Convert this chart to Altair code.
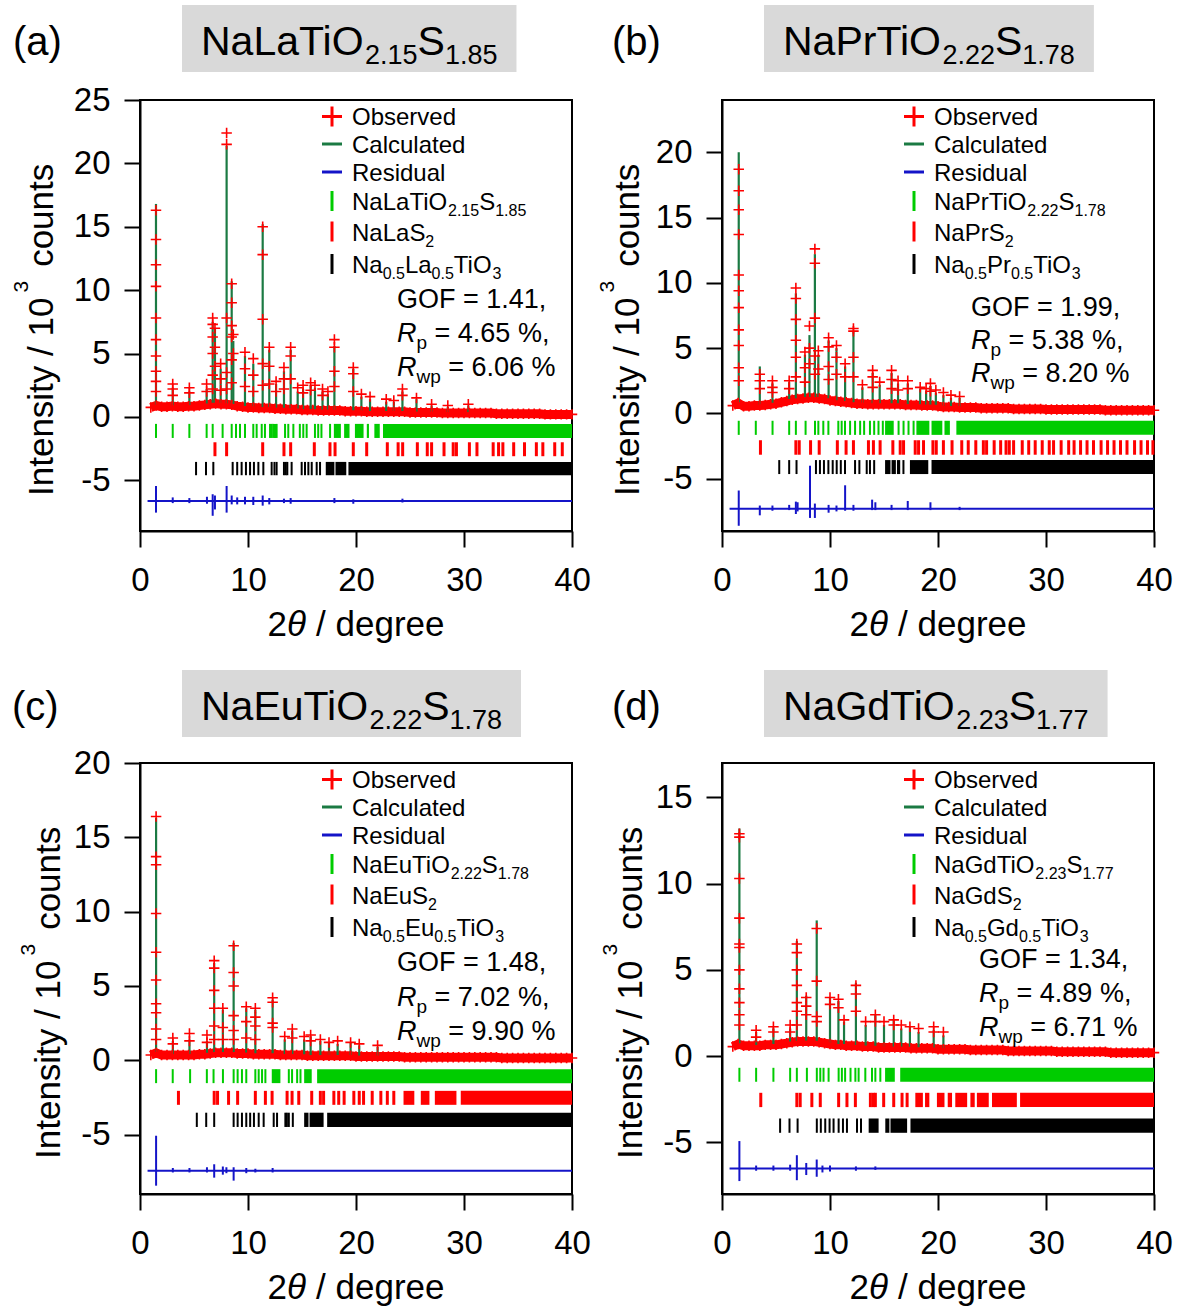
import altair as alt
import numpy as np
import pandas as pd

FONT = "Liberation Sans"
PW, PH = 432, 431
OBS_RED = "#ff0000"
CALC_GREEN = "#1b7a43"
TICK_GREEN = "#00cc00"
TICK_RED = "#ff0000"
TICK_BLACK = "#000000"
RES_BLUE = "#1414c8"
BOX_GREY = "#d9d9d9"
CROSS = "M-1,0L1,0M0,-1L0,1"

# 2theta positions where the background level of each pattern was read (0.5 deg steps)
BG_X = [round(1.0 + 0.5 * i, 1) for i in range(79)]

# ---------------- (a) NaLaTiO2.15S1.85 ----------------
A_TITLE = ["NaLaTiO", "_2.15", "S", "_1.85"]
A_PHASES = [["NaLaTiO", "_2.15", "S", "_1.85"], ["NaLaS", "_2"], ["Na", "_0.5", "La", "_0.5", "TiO", "_3"]]
A_FIT = ["1.41", "4.65", "6.06"]
A_YDOM = [-9, 25]
A_YTICKS = [-5, 0, 5, 10, 15, 20, 25]
A_BG = [0.75, 0.9, 0.8, 0.8, 0.85, 0.8, 0.8, 0.85, 0.85, 0.9,
        0.95, 1.0, 1.05, 1.0, 1.0, 0.95, 0.85, 0.8, 0.75, 0.75,
        0.7, 0.7, 0.7, 0.65, 0.65, 0.6, 0.6, 0.6, 0.55, 0.55,
        0.55, 0.5, 0.5, 0.5, 0.5, 0.5, 0.45, 0.45, 0.45, 0.45,
        0.4, 0.4, 0.4, 0.4, 0.4, 0.4, 0.4, 0.4, 0.35, 0.35,
        0.35, 0.35, 0.35, 0.35, 0.3, 0.3, 0.3, 0.3, 0.3, 0.3,
        0.3, 0.3, 0.3, 0.3, 0.25, 0.25, 0.25, 0.25, 0.25, 0.25,
        0.25, 0.25, 0.25, 0.2, 0.2, 0.2, 0.2, 0.2,
        0.2]
A_PK_POS = [1.48, 3.03, 4.57, 6.17, 6.73, 6.94, 7.47, 8.02, 8.49, 8.64, 9.72, 10.49, 11.36,
            11.97, 13.33, 13.95, 15.1, 15.8, 16.2, 18.0, 19.75, 22.8, 24.3, 25.6, 27.0, 30.4,
            12.6, 14.6, 16.9, 17.4, 20.5, 21.3, 23.5, 28.5]
A_PK_CALC = [16.8, 2.3, 2.0, 2.2, 7.5, 7.0, 3.8, 21.4, 10.7, 6.0, 4.8, 4.2, 15.2,
             5.3, 3.6, 5.3, 2.2, 2.5, 2.3, 5.6, 3.8, 1.2, 2.0, 1.4, 0.9, 0.9,
             2.6, 2.0, 2.0, 1.8, 1.6, 1.4, 1.2, 0.8]
A_PK_OBS = [[16.3, 14.0, 12.0, 10.3, 7.8, 6.1, 4.8, 3.6, 2.8, 2.0], [2.6, 2.2, 1.7], [2.3, 1.9], [2.6, 2.0],
            [7.8, 7.3, 6.3, 5.0, 3.3, 2.2], [7.0, 5.5, 4.0], [4.2, 3.0, 2.1], [22.4, 21.5, 7.8, 3.5, 2.2],
            [10.5, 9.0, 7.2, 6.3, 4.5, 2.7], [6.5, 5.0], [5.1, 3.8, 2.4], [4.6, 3.3, 2.0],
            [15.0, 12.8, 7.7, 4.2, 2.5], [5.5, 4.0, 2.6], [3.9, 3.0, 2.2], [5.5, 4.8, 3.0], [2.5, 1.9],
            [2.7, 2.1], [2.5], [6.1, 5.5, 3.6, 2.4], [3.9, 3.4, 2.0], [1.4], [2.2, 1.7], [1.5], [1.0], [1.0],
            [2.8, 2.0], [2.3], [2.2, 1.7], [2.0], [1.8], [1.6], [1.3], [0.9]]
A_RES_BASE = -6.63
A_RES_POS = [1.48, 3.03, 4.57, 6.2, 6.73, 6.94, 8.02, 8.49, 9.0, 9.72, 10.49, 11.36, 11.97, 13.33, 13.95, 18.0, 19.75, 24.3]
A_RES_HI = [-5.45, -6.35, -6.4, -6.3, -6.1, -6.2, -5.45, -6.2, -6.35, -6.3, -6.3, -6.2, -6.4, -6.45, -6.4, -6.4, -6.5, -6.45]
A_RES_LO = [-7.55, -6.8, -6.8, -6.85, -7.8, -7.3, -7.55, -6.9, -6.9, -6.9, -6.95, -7.0, -6.9, -6.8, -6.85, -6.8, -6.85, -6.75]
A_ROWS = [(-0.55, -1.66), (-2.0, -3.1), (-3.55, -4.6)]
A_TK1 = [1.48, 3.03, 4.57, 6.17, 6.73, 7.65, 8.49, 8.89, 9.26, 9.72, 10.49, 10.8, 11.27, 11.57, 12.04, 12.2,
         12.35, 12.5, 12.65, 13.43, 13.73, 14.2, 14.8, 15.12, 15.43, 16.2, 16.5, 16.8, 17.6]
A_SP1 = [(17.95, 18.6), (18.9, 19.4), (19.9, 20.7), (21.0, 21.2), (21.7, 22.2), (22.5, 40.0)]
A_TK2 = [6.94, 8.02, 11.36, 13.33, 13.95, 16.14, 17.59, 18.06, 19.75, 20.99, 22.9, 23.9, 24.32, 25.68, 26.6,
         27.0, 28.15, 29.0, 29.3, 30.5, 31.2, 32.7, 33.2, 33.6, 34.6, 35.6, 36.7, 37.3, 38.4, 39.1]
A_SP2 = []
A_TK3 = [5.19, 6.11, 6.79, 8.58, 9.0, 9.41, 9.81, 10.19, 10.55, 10.96, 11.42, 12.19, 12.45, 12.65, 13.33, 13.5,
         13.64, 14.04, 14.97, 15.28, 15.59, 15.9, 16.36, 16.67]
A_SP3 = [(17.2, 18.0), (18.1, 19.1), (19.3, 40.0)]

# ---------------- (b) NaPrTiO2.22S1.78 ----------------
B_TITLE = ["NaPrTiO", "_2.22", "S", "_1.78"]
B_PHASES = [["NaPrTiO", "_2.22", "S", "_1.78"], ["NaPrS", "_2"], ["Na", "_0.5", "Pr", "_0.5", "TiO", "_3"]]
B_FIT = ["1.99", "5.38", "8.20"]
B_YDOM = [-9, 24]
B_YTICKS = [-5, 0, 5, 10, 15, 20]
B_BG = [0.6, 0.8, 0.55, 0.55, 0.6, 0.6, 0.65, 0.7, 0.75, 0.85,
        0.95, 1.05, 1.1, 1.15, 1.2, 1.2, 1.15, 1.1, 1.0, 0.95,
        0.9, 0.85, 0.8, 0.75, 0.75, 0.7, 0.7, 0.7, 0.7, 0.7,
        0.7, 0.7, 0.65, 0.65, 0.65, 0.6, 0.6, 0.6, 0.55, 0.5,
        0.5, 0.5, 0.45, 0.45, 0.45, 0.45, 0.4, 0.4, 0.4, 0.4,
        0.4, 0.4, 0.35, 0.35, 0.35, 0.35, 0.35, 0.35, 0.3, 0.3,
        0.3, 0.3, 0.3, 0.3, 0.3, 0.3, 0.3, 0.3, 0.3, 0.25,
        0.25, 0.25, 0.25, 0.25, 0.25, 0.25, 0.25, 0.25,
        0.25]
B_PK_POS = [1.55, 3.5, 4.67, 6.22, 6.84, 7.68, 8.1, 8.6, 8.92, 9.87, 10.6, 11.4, 12.17, 13.95, 15.7, 17.2, 18.35,
            19.3, 20.5, 13.0, 14.6, 16.3, 18.9, 19.8, 21.2, 22.0]
B_PK_CALC = [20.0, 3.6, 2.3, 2.4, 9.2, 4.5, 6.0, 12.2, 4.5, 5.6, 5.0, 3.6, 6.3, 3.1, 3.1, 2.3, 1.9,
             2.1, 1.4, 2.0, 2.2, 2.3, 1.7, 1.6, 1.2, 1.2]
B_PK_OBS = [[18.7, 17.05, 15.6, 13.7, 10.6, 9.4, 8.1, 6.4, 5.2, 3.5, 2.5], [3.0, 2.5, 1.9], [2.5, 2.0, 1.6],
            [2.5, 1.9], [9.6, 8.8, 7.2, 5.6, 4.3, 2.8], [4.7, 3.5, 2.4], [6.7, 5.0, 3.8], [12.6, 11.5, 7.3, 4.4, 3.0],
            [4.8, 3.4], [5.8, 5.1, 3.6, 2.6], [5.2, 4.3, 3.0], [3.8, 2.8], [6.5, 6.3, 4.3, 2.8], [3.3, 2.8, 2.0],
            [3.3, 2.6, 1.9], [2.5, 1.9], [2.0], [2.3, 1.7], [1.6],
            [2.2], [2.4], [2.5, 1.8], [1.9], [1.8], [1.4], [1.3]]
B_RES_BASE = -7.3
B_RES_POS = [1.55, 3.5, 4.67, 6.22, 6.84, 7.0, 8.15, 8.6, 9.87, 10.6, 11.4, 12.17, 13.9, 14.2, 15.7, 17.2, 19.3, 22.0]
B_RES_HI = [-5.9, -7.05, -7.05, -7.0, -6.75, -6.8, -4.0, -6.9, -7.0, -7.05, -5.5, -7.0, -6.6, -6.8, -7.0, -6.7, -6.8, -7.15]
B_RES_LO = [-8.6, -7.8, -7.45, -7.4, -7.7, -7.5, -8.0, -8.0, -7.6, -7.5, -7.45, -7.45, -7.4, -7.4, -7.4, -7.4, -7.4, -7.4]
B_ROWS = [(-0.56, -1.64), (-2.05, -3.16), (-3.57, -4.64)]
B_TK1 = [1.55, 3.13, 4.68, 6.22, 6.84, 7.74, 8.61, 8.92, 9.38, 9.85, 10.77, 11.08, 11.39, 11.86, 12.32, 12.79,
         13.16, 13.7, 14.09, 14.49, 14.89, 16.35, 16.81, 17.27, 17.74]
B_SP1 = [(15.1, 15.9), (18.0, 19.2), (19.4, 20.4), (20.6, 21.1), (21.7, 40.0)]
B_TK2 = [3.56, 6.84, 7.15, 8.2, 9.0, 10.68, 11.49, 12.17, 13.56, 14.02, 14.64, 15.82, 16.5, 16.81, 17.89, 18.2,
         18.66, 19.53, 19.84, 20.5, 21.3, 22.2, 22.8, 23.5, 24.2, 24.5, 25.2, 25.8, 26.3, 26.6, 27.0, 27.8, 28.4,
         29.0, 29.65, 30.3, 30.7, 31.4, 32.1, 32.6, 33.2, 33.8, 34.4, 35.1, 35.7, 36.3, 36.9, 37.5, 38.2, 38.8,
         39.4, 39.9]
B_SP2 = []
B_TK3 = [5.3, 6.22, 6.9, 8.7, 9.07, 9.44, 9.85, 10.25, 10.62, 11.0, 11.39, 12.32, 12.72, 13.4, 13.7, 14.09, 16.8]
B_SP3 = [(15.1, 15.6), (15.7, 16.1), (16.2, 16.5), (17.4, 19.1), (19.4, 40.0)]

# ---------------- (c) NaEuTiO2.22S1.78 ----------------
C_TITLE = ["NaEuTiO", "_2.22", "S", "_1.78"]
C_PHASES = [["NaEuTiO", "_2.22", "S", "_1.78"], ["NaEuS", "_2"], ["Na", "_0.5", "Eu", "_0.5", "TiO", "_3"]]
C_FIT = ["1.48", "7.02", "9.90"]
C_YDOM = [-9, 20]
C_YTICKS = [-5, 0, 5, 10, 15, 20]
C_BG = [0.35, 0.5, 0.35, 0.35, 0.35, 0.35, 0.35, 0.35, 0.35, 0.4,
        0.4, 0.45, 0.5, 0.5, 0.5, 0.5, 0.45, 0.45, 0.45, 0.4,
        0.4, 0.4, 0.4, 0.4, 0.35, 0.35, 0.35, 0.35, 0.35, 0.3,
        0.3, 0.3, 0.3, 0.3, 0.3, 0.3, 0.3, 0.3, 0.25, 0.25,
        0.25, 0.25, 0.25, 0.25, 0.25, 0.25, 0.25, 0.2, 0.2, 0.2,
        0.2, 0.2, 0.2, 0.2, 0.2, 0.2, 0.2, 0.2, 0.2, 0.2,
        0.2, 0.2, 0.2, 0.2, 0.2, 0.15, 0.15, 0.15, 0.15, 0.15,
        0.15, 0.15, 0.15, 0.15, 0.15, 0.15, 0.15, 0.15,
        0.15]
C_PK_POS = [1.49, 3.04, 4.58, 6.2, 6.87, 7.67, 8.67, 9.84, 10.68, 12.28, 14.1, 15.8, 16.7, 17.5, 19.5,
            13.4, 15.2, 18.3, 20.3, 22.0]
C_PK_CALC = [16.3, 1.3, 1.4, 1.3, 6.55, 3.4, 7.9, 3.5, 3.4, 4.05, 2.0, 1.6, 1.3, 1.2, 1.2,
             1.4, 1.4, 1.1, 1.0, 0.9]
C_PK_OBS = [[16.4, 13.7, 13.15, 9.87, 7.27, 5.4, 3.8, 3.2, 2.1, 1.4], [1.5, 1.1], [1.8, 1.3], [1.7, 1.2],
            [6.7, 6.2, 4.7, 3.5, 2.3, 1.4], [3.5, 2.2, 1.4], [7.7, 5.9, 5.0, 3.0, 2.0, 1.4], [3.6, 2.6, 1.5],
            [3.5, 2.9, 2.3, 1.4], [4.2, 3.9, 2.5, 2.2], [2.1, 1.5], [1.7, 1.3], [1.4], [1.2], [1.2],
            [1.6], [1.6], [1.3], [1.1], [1.0]]
C_RES_BASE = -7.43
C_RES_POS = [1.49, 3.04, 4.58, 6.2, 6.87, 7.67, 8.0, 8.67, 9.84, 10.68, 12.28]
C_RES_HI = [-5.08, -7.25, -7.25, -7.2, -7.0, -7.15, -7.2, -7.2, -7.25, -7.3, -7.25]
C_RES_LO = [-8.44, -7.55, -7.55, -7.55, -7.9, -7.7, -7.6, -8.1, -7.6, -7.55, -7.55]
C_ROWS = [(-0.6, -1.54), (-2.06, -3.0), (-3.53, -4.49)]
C_TK1 = [1.49, 3.03, 4.64, 6.19, 6.81, 7.68, 8.67, 9.04, 9.44, 9.84, 10.68, 10.99, 11.3, 11.61, 13.78, 14.08, 14.55, 14.86]
C_SP1 = [(12.2, 13.0), (15.2, 15.9), (16.4, 40.0)]
C_TK2 = [3.56, 6.87, 7.18, 8.2, 9.04, 10.68, 11.61, 12.23, 13.62, 14.08, 14.7, 15.9, 16.7, 17.0, 17.95, 18.4,
         18.9, 19.8, 20.3, 20.7, 21.5, 22.3, 22.9, 23.5]
C_SP2 = [(24.4, 25.4), (26.0, 26.8), (27.3, 29.3), (29.7, 40.0)]
C_TK3 = [5.26, 6.13, 6.87, 8.67, 9.04, 9.44, 9.84, 10.2, 10.55, 10.99, 11.45, 12.38, 12.69, 13.46, 13.6, 13.78, 14.15]
C_SP3 = [(15.2, 15.6), (15.7, 17.0), (17.33, 40.0)]

# ---------------- (d) NaGdTiO2.23S1.77 ----------------
D_TITLE = ["NaGdTiO", "_2.23", "S", "_1.77"]
D_PHASES = [["NaGdTiO", "_2.23", "S", "_1.77"], ["NaGdS", "_2"], ["Na", "_0.5", "Gd", "_0.5", "TiO", "_3"]]
D_FIT = ["1.34", "4.89", "6.71"]
D_YDOM = [-8, 17]
D_YTICKS = [-5, 0, 5, 10, 15]
D_BG = [0.55, 0.7, 0.6, 0.6, 0.6, 0.6, 0.65, 0.65, 0.65, 0.7,
        0.75, 0.8, 0.85, 0.85, 0.85, 0.85, 0.8, 0.75, 0.7, 0.65,
        0.65, 0.6, 0.6, 0.6, 0.55, 0.55, 0.55, 0.5, 0.5, 0.5,
        0.5, 0.5, 0.5, 0.45, 0.45, 0.45, 0.45, 0.45, 0.4, 0.4,
        0.4, 0.4, 0.4, 0.4, 0.35, 0.35, 0.35, 0.35, 0.35, 0.35,
        0.35, 0.3, 0.3, 0.3, 0.3, 0.3, 0.3, 0.3, 0.3, 0.3,
        0.25, 0.25, 0.25, 0.25, 0.25, 0.25, 0.25, 0.25, 0.25, 0.25,
        0.2, 0.2, 0.2, 0.2, 0.2, 0.2, 0.2, 0.2,
        0.2]
D_PK_POS = [1.61, 3.16, 4.76, 6.31, 6.93, 7.8, 8.77, 10.0, 10.78, 11.3, 12.4, 14.2, 15.9, 17.4, 19.6,
            13.3, 15.0, 16.6, 18.2, 20.5]
D_PK_CALC = [13.2, 1.4, 1.6, 1.6, 6.67, 3.5, 7.87, 3.4, 3.2, 2.0, 4.25, 2.4, 2.1, 1.7, 1.5,
             1.8, 1.8, 1.6, 1.4, 1.2]
D_PK_OBS = [[12.9, 12.7, 10.3, 8.0, 6.5, 6.3, 5.0, 3.9, 3.1, 2.4, 1.8], [1.5, 1.1], [1.7, 1.4], [1.8, 1.4],
            [6.5, 6.0, 5.0, 4.1, 3.1, 2.6, 1.8], [3.4, 2.9, 2.4], [7.4, 4.35, 2.3, 2.0], [3.4, 3.0], [3.3, 2.8],
            [2.1], [4.1, 3.6, 2.6], [2.4, 2.0], [2.1, 1.8], [1.7], [1.7, 1.4],
            [2.0], [2.0], [1.8], [1.6], [1.4]]
D_RES_BASE = -6.52
D_RES_POS = [1.61, 3.16, 4.76, 6.31, 6.93, 7.8, 8.77, 9.3, 10.0, 12.4, 14.2]
D_RES_HI = [-4.93, -6.35, -6.35, -6.3, -5.75, -6.2, -6.0, -6.35, -6.35, -6.4, -6.4]
D_RES_LO = [-7.25, -6.65, -6.65, -6.65, -7.2, -6.9, -7.0, -6.75, -6.7, -6.65, -6.6]
D_ROWS = [(-0.68, -1.49), (-2.13, -2.96), (-3.62, -4.45)]
D_TK1 = [1.61, 3.16, 4.76, 6.31, 6.93, 7.86, 8.78, 9.1, 9.4, 9.87, 10.8, 11.1, 11.4, 11.9, 12.35, 12.65, 13.27,
         13.89, 14.2, 14.66]
D_SP1 = [(15.1, 16.0), (16.5, 40.0)]
D_TK2 = [3.59, 6.93, 7.24, 8.32, 9.1, 10.8, 11.57, 12.35, 13.74, 14.0, 14.2, 14.97, 15.9, 16.67, 17.14]
D_SP2 = [(17.9, 18.6), (18.8, 19.2), (19.9, 20.6), (20.9, 21.3), (21.6, 22.7), (23.0, 23.4), (23.6, 24.7),
         (25.0, 27.3), (27.6, 40.0)]
D_TK3 = [5.38, 6.25, 7.0, 8.78, 9.15, 9.56, 9.96, 10.33, 10.8, 11.2, 11.57, 12.5, 12.87]
D_SP3 = [(13.58, 14.5), (15.12, 15.5), (15.6, 17.14), (17.45, 40.0)]

LABELS = ["(a)", "(b)", "(c)", "(d)"]

# ---------------- text helpers (Arial / Liberation Sans advance widths) ----------------
CW = {' ': 278, '(': 333, ')': 333, ',': 278, '.': 278, '/': 278, '=': 584, '%': 889,
      'a': 556, 'b': 556, 'c': 500, 'd': 556, 'e': 556, 'g': 556, 'i': 222, 'l': 222, 'n': 556,
      'o': 556, 'p': 556, 'r': 333, 's': 500, 't': 278, 'u': 556, 'v': 500, 'w': 722, 'y': 500,
      'C': 722, 'E': 667, 'F': 611, 'G': 778, 'I': 278, 'L': 556, 'N': 722, 'O': 778, 'P': 667,
      'R': 722, 'S': 667, 'T': 611, '\u03b8': 556}


def tw(s, size):
    return sum(CW.get(c, 556) for c in s) * size / 1000.0


def seg_row(parts, x0, base):
    out = []
    x = x0
    for text, size, dy, style in parts:
        stripped = text.lstrip(' ')
        x += tw(text[:len(text) - len(stripped)], size)
        out.append({'px': x, 'py': base + dy, 'text': stripped, 'size': size, 'style': style})
        x += tw(stripped, size)
    return out


def chem(tokens, big, small, drop):
    return [(t[1:], small, drop, 'n') if t.startswith('_') else (t, big, 0, 'n') for t in tokens]


def width_of(parts):
    return sum(tw(t, s) for t, s, _, _ in parts)


PANELS = [
    dict(title=A_TITLE, phases=A_PHASES, fit=A_FIT, ydom=A_YDOM, yticks=A_YTICKS, bg=A_BG,
         pk_pos=A_PK_POS, pk_calc=A_PK_CALC, pk_obs=A_PK_OBS, res_base=A_RES_BASE, res_pos=A_RES_POS,
         res_hi=A_RES_HI, res_lo=A_RES_LO, rows=A_ROWS, tk=[A_TK1, A_TK2, A_TK3], sp=[A_SP1, A_SP2, A_SP3],
         label=LABELS[0], lab_x=-127, top=-95, ytx=-87, gof_x=257, gof_b=[208, 242, 276]),
    dict(title=B_TITLE, phases=B_PHASES, fit=B_FIT, ydom=B_YDOM, yticks=B_YTICKS, bg=B_BG,
         pk_pos=B_PK_POS, pk_calc=B_PK_CALC, pk_obs=B_PK_OBS, res_base=B_RES_BASE, res_pos=B_RES_POS,
         res_hi=B_RES_HI, res_lo=B_RES_LO, rows=B_ROWS, tk=[B_TK1, B_TK2, B_TK3], sp=[B_SP1, B_SP2, B_SP3],
         label=LABELS[1], lab_x=-110, top=-95, ytx=-83, gof_x=249, gof_b=[216, 249, 282]),
    dict(title=C_TITLE, phases=C_PHASES, fit=C_FIT, ydom=C_YDOM, yticks=C_YTICKS, bg=C_BG,
         pk_pos=C_PK_POS, pk_calc=C_PK_CALC, pk_obs=C_PK_OBS, res_base=C_RES_BASE, res_pos=C_RES_POS,
         res_hi=C_RES_HI, res_lo=C_RES_LO, rows=C_ROWS, tk=[C_TK1, C_TK2, C_TK3], sp=[C_SP1, C_SP2, C_SP3],
         label=LABELS[2], lab_x=-128, top=-93, ytx=-80, gof_x=257, gof_b=[208, 243, 277]),
    dict(title=D_TITLE, phases=D_PHASES, fit=D_FIT, ydom=D_YDOM, yticks=D_YTICKS, bg=D_BG,
         pk_pos=D_PK_POS, pk_calc=D_PK_CALC, pk_obs=D_PK_OBS, res_base=D_RES_BASE, res_pos=D_RES_POS,
         res_hi=D_RES_HI, res_lo=D_RES_LO, rows=D_ROWS, tk=[D_TK1, D_TK2, D_TK3], sp=[D_SP1, D_SP2, D_SP3],
         label=LABELS[3], lab_x=-110, top=-93, ytx=-80, gof_x=257, gof_b=[205, 239, 273]),
]

TICK_COLORS = [TICK_GREEN, TICK_RED, TICK_BLACK]
TICK_WIDTHS = [2.0, 3.0, 2.0]
LEG_BASE = [25, 52.5, 80.5, 110, 140.5, 173]
LEG_TX = 212
LEG_SX = 192


def build_panel(P):
    xs = alt.Scale(domain=[0, 40], nice=False, zero=False)
    ys = alt.Scale(domain=P['ydom'], nice=False, zero=False)
    xaxis = alt.Axis(values=[0, 10, 20, 30, 40], title='', grid=False, labelFlush=False,
                     labelOverlap=False, labelExpr="'' + datum.value")
    yaxis = alt.Axis(values=P['yticks'], title='', grid=False, labelOverlap=False,
                     labelExpr="'' + datum.value")

    bg = pd.DataFrame({'x': BG_X, 'y': P['bg']})
    l_calc_bg = alt.Chart(bg).mark_line(color=CALC_GREEN, strokeWidth=2).encode(
        x=alt.X('x:Q', scale=xs, axis=xaxis), y=alt.Y('y:Q', scale=ys, axis=yaxis))

    feet = np.interp(P['pk_pos'], BG_X, P['bg'])
    pk = pd.DataFrame({'x': P['pk_pos'], 'y': feet, 'y2': P['pk_calc']})
    l_calc_pk = alt.Chart(pk).mark_rule(color=CALC_GREEN, strokeWidth=2.2).encode(
        x='x:Q', y='y:Q', y2='y2:Q')

    l_band = alt.Chart(bg).mark_line(color=OBS_RED, strokeWidth=9).encode(x='x:Q', y='y:Q')

    obs = [{'x': x, 'y': y} for x, y in zip(BG_X, P['bg'])]
    for pos, yl in zip(P['pk_pos'], P['pk_obs']):
        for yv in yl:
            obs.append({'x': pos, 'y': yv})
    l_obs = alt.Chart(pd.DataFrame(obs)).mark_point(
        shape=CROSS, size=110, filled=False, strokeWidth=1.6, color=OBS_RED, opacity=1).encode(
        x='x:Q', y='y:Q')

    trows, srows = [], []
    for i in range(3):
        hi, lo = P['rows'][i]
        for t in P['tk'][i]:
            trows.append({'x': t, 'y': hi, 'y2': lo, 'c': TICK_COLORS[i], 'w': TICK_WIDTHS[i]})
        for a, b in P['sp'][i]:
            srows.append({'x': a, 'x2': b, 'y': hi, 'y2': lo, 'c': TICK_COLORS[i]})
    l_ticks = alt.Chart(pd.DataFrame(trows)).mark_rule().encode(
        x='x:Q', y='y:Q', y2='y2:Q', color=alt.Color('c:N', scale=None),
        strokeWidth=alt.StrokeWidth('w:Q', scale=None))
    l_spans = alt.Chart(pd.DataFrame(srows)).mark_rect().encode(
        x='x:Q', x2='x2:Q', y='y:Q', y2='y2:Q', color=alt.Color('c:N', scale=None))

    l_res_base = alt.Chart(pd.DataFrame({'x': [0.7], 'x2': [40.0], 'y': [P['res_base']]})).mark_rule(
        color=RES_BLUE, strokeWidth=2).encode(x='x:Q', x2='x2:Q', y='y:Q')
    l_res = alt.Chart(pd.DataFrame({'x': P['res_pos'], 'y': P['res_hi'], 'y2': P['res_lo']})).mark_rule(
        color=RES_BLUE, strokeWidth=2).encode(x='x:Q', y='y:Q', y2='y2:Q')

    # ---- annotation texts (pixel positions relative to the plot area) ----
    top = P['top']
    title_parts = chem(P['title'], 41, 27, 9)
    tx0 = 61
    box_r = tx0 + width_of(title_parts) + 19
    l_box = alt.Chart(pd.DataFrame({'d': [0]})).mark_rect(color=BOX_GREY).encode(
        x=alt.value(42), x2=alt.value(box_r), y=alt.value(top), y2=alt.value(top + 67))

    texts = []
    texts += seg_row(title_parts, tx0, top + 50)
    texts += seg_row([(P['label'], 40, 0, 'n')], P['lab_x'], top + 50)
    for i, name in enumerate(["Observed", "Calculated", "Residual"]):
        texts += seg_row([(name, 24, 0, 'n')], LEG_TX, LEG_BASE[i])
    for i, ph in enumerate(P['phases']):
        texts += seg_row(chem(ph, 24, 16, 6), LEG_TX, LEG_BASE[3 + i])
    gx = P['gof_x']
    gb = P['gof_b']
    texts += seg_row([("GOF = " + P['fit'][0] + ",", 27, 0, 'n')], gx, gb[0])
    texts += seg_row([("R", 27, 0, 'i'), ("p", 19, 7, 'n'), (" = " + P['fit'][1] + " %,", 27, 0, 'n')], gx, gb[1])
    texts += seg_row([("R", 27, 0, 'i'), ("wp", 19, 7, 'n'), (" = " + P['fit'][2] + " %", 27, 0, 'n')], gx, gb[2])
    xt_parts = [("2", 35, 0, 'n'), ("\u03b8", 35, 0, 'i'), (" / degree", 35, 0, 'n')]
    texts += seg_row(xt_parts, PW / 2 - width_of(xt_parts) / 2, PH + 105)
    tdf = pd.DataFrame(texts)

    def text_layer(df, style):
        return alt.Chart(df).mark_text(font=FONT, align='left', baseline='alphabetic', color='black',
                                       fontStyle=style).encode(
            x=alt.X('px:Q', scale=None), y=alt.Y('py:Q', scale=None), text='text:N',
            size=alt.Size('size:Q', scale=None))

    l_txt_n = text_layer(tdf[tdf['style'] == 'n'], 'normal')
    l_txt_i = text_layer(tdf[tdf['style'] == 'i'], 'italic')

    # rotated y title: Intensity / 10^3 counts
    y0 = 396
    w1 = tw("Intensity / 10", 35)
    ytitle = pd.DataFrame([
        {'px': P['ytx'], 'py': y0, 'text': "Intensity / 10", 'size': 35},
        {'px': P['ytx'] - 25, 'py': y0 - w1 - 5, 'text': "3", 'size': 21},
        {'px': P['ytx'], 'py': y0 - w1 - 5 - tw("3", 21) - 14, 'text': "counts", 'size': 35},
    ])
    l_ytitle = alt.Chart(ytitle).mark_text(font=FONT, align='left', baseline='alphabetic', color='black',
                                           angle=270).encode(
        x=alt.X('px:Q', scale=None), y=alt.Y('py:Q', scale=None), text='text:N',
        size=alt.Size('size:Q', scale=None))

    # legend symbols
    l_leg_cross = alt.Chart(pd.DataFrame({'px': [LEG_SX], 'py': [LEG_BASE[0] - 8.5]})).mark_point(
        shape=CROSS, size=400, filled=False, strokeWidth=3, color=OBS_RED, opacity=1).encode(
        x=alt.X('px:Q', scale=None), y=alt.Y('py:Q', scale=None))
    lrules = [
        {'px': LEG_SX - 10, 'px2': LEG_SX + 10, 'py': LEG_BASE[1] - 8.5, 'py2': LEG_BASE[1] - 8.5, 'c': CALC_GREEN},
        {'px': LEG_SX - 10, 'px2': LEG_SX + 10, 'py': LEG_BASE[2] - 8.5, 'py2': LEG_BASE[2] - 8.5, 'c': RES_BLUE},
    ]
    for i in range(3):
        b = LEG_BASE[3 + i]
        lrules.append({'px': LEG_SX, 'px2': LEG_SX, 'py': b - 19, 'py2': b + 1, 'c': TICK_COLORS[i]})
    l_leg_rules = alt.Chart(pd.DataFrame(lrules)).mark_rule(strokeWidth=3).encode(
        x=alt.X('px:Q', scale=None), x2='px2:Q', y=alt.Y('py:Q', scale=None), y2='py2:Q',
        color=alt.Color('c:N', scale=None))

    return alt.layer(l_calc_bg, l_band, l_calc_pk, l_obs, l_ticks, l_spans, l_res_base, l_res,
                     l_box, l_txt_n, l_txt_i, l_ytitle, l_leg_cross, l_leg_rules).properties(
        width=PW, height=PH)


pa, pb, pc, pd_ = [build_panel(P) for P in PANELS]
top_row = alt.hconcat(pa, pb, spacing=150, bounds='flush')
bottom_row = alt.hconcat(pc, pd_, spacing=150, bounds='flush')
# the nested rows count as zero height under flush bounds, so the row pitch is plot height + gap
chart = alt.vconcat(top_row, bottom_row, spacing=PH + 232, bounds='flush').properties(
    padding={'left': 10, 'top': 4, 'right': 2, 'bottom': 0}
).configure_axis(
    domainColor='black', domainWidth=2, tickColor='black', tickWidth=2, tickSize=16,
    labelFont=FONT, labelFontSize=33, labelColor='black'
).configure_axisX(labelPadding=17).configure_axisY(labelPadding=14).configure_view(
    stroke='black', strokeWidth=2)

chart.save("out.html", embed_options={"renderer": "svg", "actions": False})
